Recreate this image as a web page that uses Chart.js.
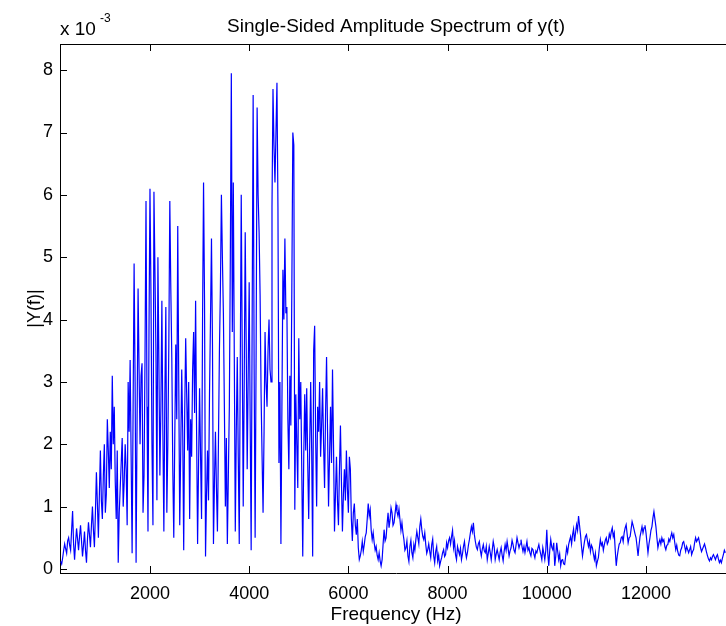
<!DOCTYPE html>
<html>
<head>
<meta charset="utf-8">
<script src="https://cdn.jsdelivr.net/npm/chart.js@4.4.1/dist/chart.umd.min.js"></script>
<style>
html, body { margin: 0; padding: 0; background: #fff; overflow: hidden; }
#wrap { width: 736px; height: 626px; }
</style>
</head>
<body>
<div id="wrap"><canvas id="spec" width="736" height="626"></canvas></div>
<script>
// |Y(f)|, in units of 1e-3 (see the "x 10^-3" label), one value every 20 Hz
var freqStep = 20;

// 200..980 Hz
var lowStart = 200;
var ampLow = [
  0.12, 0.08, 0.18, 0.30, 0.40, 0.32, 0.25, 0.45, 0.50, 0.38, 0.30, 0.62, 0.93, 0.40, 0.15, 0.42, 0.65, 0.48, 0.30, 0.52, // 200
  0.70, 0.45, 0.20, 0.38, 0.60, 0.30, 0.10, 0.48, 0.75, 0.55, 0.35, 0.70, 1.00, 0.62, 0.35, 0.90, 1.55, 1.05, 0.50, 1.20  // 600
];

// 1000..6180 Hz, the busy part
var midStart = 1000;
var ampMid = [
  1.90, 1.10, 0.80, 1.50, 2.00, 0.90, 1.20, 2.40, 1.90, 1.30, 2.20, 1.60, 3.10, 2.00, 2.60, 1.40, 0.80, 1.90, 0.10, 0.90, // 1000
  1.30, 1.70, 2.10, 1.00, 1.40, 2.00, 1.60, 0.70, 3.00, 2.20, 3.35, 1.80, 0.25, 2.60, 4.90, 3.00, 0.10, 2.40, 4.50, 3.20, // 1400
  2.00, 3.10, 3.30, 0.90, 1.50, 3.40, 5.90, 2.60, 0.60, 3.80, 6.10, 4.40, 2.00, 0.70, 6.05, 4.80, 3.50, 1.10, 5.00, 3.30, // 1800
  1.50, 2.60, 4.30, 2.20, 0.60, 2.80, 4.20, 0.90, 2.00, 3.60, 5.90, 4.50, 3.40, 1.60, 0.50, 2.10, 3.60, 2.40, 5.50, 3.00, // 2200
  0.70, 1.90, 3.20, 2.20, 0.30, 2.50, 3.70, 2.80, 1.90, 3.00, 0.80, 2.40, 1.80, 3.20, 3.80, 2.50, 4.30, 2.20, 0.40, 1.70, // 2600
  2.90, 1.80, 0.80, 4.00, 6.20, 4.30, 0.20, 1.20, 1.90, 1.10, 2.80, 4.00, 5.30, 3.60, 0.40, 1.40, 2.20, 1.30, 0.60, 2.00, // 3000
  3.50, 4.50, 6.00, 5.00, 4.10, 2.60, 1.00, 2.10, 0.40, 1.50, 2.60, 5.00, 7.95, 3.80, 6.20, 3.40, 0.60, 2.20, 3.40, 1.80, // 3400
  0.40, 3.20, 6.00, 3.50, 1.00, 3.00, 5.40, 3.60, 1.60, 3.10, 4.60, 2.40, 0.30, 4.00, 7.60, 3.20, 0.50, 3.50, 7.40, 6.00, // 3800
  5.40, 4.40, 2.80, 1.80, 0.90, 2.20, 3.80, 3.00, 2.60, 3.50, 4.00, 3.20, 3.00, 5.80, 7.70, 6.80, 6.20, 7.00, 7.80, 5.80, // 4200
  1.70, 3.00, 0.40, 2.60, 4.80, 4.00, 5.30, 4.10, 4.20, 2.40, 1.60, 3.10, 2.30, 4.50, 7.00, 6.80, 0.95, 2.80, 2.00, 1.30, // 4600
  3.70, 2.40, 3.00, 1.60, 0.20, 1.80, 2.80, 1.90, 2.90, 1.70, 0.80, 2.00, 3.00, 1.90, 0.20, 3.50, 3.90, 2.10, 1.00, 2.60, // 5000
  2.20, 3.00, 1.80, 2.30, 2.90, 2.00, 1.30, 2.50, 3.40, 2.20, 1.00, 1.80, 2.60, 1.70, 3.20, 2.00, 0.60, 1.20, 1.80, 1.10, // 5400
  0.70, 1.60, 2.30, 1.40, 0.60, 1.20, 1.60, 1.10, 1.90, 1.30, 0.90, 1.80, 1.60, 0.80, 0.45, 0.90, 1.05, 0.70, 0.55, 0.80  // 5800
];

// 6200..13600 Hz, the quiet part
var highStart = 6200;
var ampHigh = [
  0.34, 0.15, 0.21, 0.30, 0.44, 0.28, 0.39, 0.52, 0.58, 0.80, 1.05, 0.85, 0.95, 0.62, 0.47, 0.58, 0.42, 0.30, 0.36, 0.22, // 6200
  0.15, 0.26, 0.13, 0.05, 0.15, 0.40, 0.63, 0.45, 0.50, 0.72, 0.90, 0.66, 0.79, 0.98, 0.90, 0.70, 0.74, 0.88, 1.03, 0.92, // 6600
  0.85, 0.96, 0.79, 0.62, 0.74, 0.58, 0.47, 0.30, 0.34, 0.45, 0.21, 0.12, 0.36, 0.46, 0.26, 0.18, 0.39, 0.30, 0.47, 0.60, // 7000
  0.50, 0.40, 0.68, 0.80, 0.63, 0.52, 0.47, 0.58, 0.39, 0.25, 0.31, 0.40, 0.28, 0.18, 0.39, 0.48, 0.21, 0.10, 0.28, 0.36, // 7400
  0.13, 0.22, 0.05, 0.12, 0.18, 0.26, 0.31, 0.20, 0.23, 0.42, 0.34, 0.45, 0.50, 0.40, 0.52, 0.62, 0.34, 0.45, 0.23, 0.15, // 7800
  0.36, 0.29, 0.23, 0.33, 0.15, 0.24, 0.36, 0.44, 0.28, 0.18, 0.26, 0.38, 0.47, 0.58, 0.68, 0.60, 0.74, 0.55, 0.44, 0.35, // 8200
  0.31, 0.40, 0.44, 0.30, 0.21, 0.32, 0.39, 0.29, 0.26, 0.36, 0.15, 0.25, 0.36, 0.26, 0.15, 0.30, 0.44, 0.35, 0.15, 0.24, // 8600
  0.31, 0.23, 0.15, 0.27, 0.34, 0.22, 0.13, 0.28, 0.39, 0.30, 0.44, 0.33, 0.21, 0.29, 0.34, 0.46, 0.39, 0.30, 0.26, 0.38, // 9000
  0.50, 0.42, 0.34, 0.40, 0.47, 0.36, 0.28, 0.36, 0.26, 0.35, 0.44, 0.30, 0.34, 0.26, 0.21, 0.33, 0.31, 0.24, 0.18, 0.29, // 9400
  0.26, 0.33, 0.39, 0.30, 0.23, 0.15, 0.34, 0.25, 0.15, 0.30, 0.63, 0.25, 0.05, 0.30, 0.47, 0.35, 0.31, 0.42, 0.05, 0.20, // 9800
  0.42, 0.28, 0.15, 0.24, 0.05, 0.14, 0.15, 0.08, 0.07, 0.20, 0.34, 0.26, 0.39, 0.46, 0.52, 0.40, 0.55, 0.64, 0.44, 0.58, // 10200
  0.71, 0.62, 0.85, 0.70, 0.55, 0.36, 0.21, 0.33, 0.44, 0.52, 0.55, 0.45, 0.36, 0.44, 0.28, 0.38, 0.34, 0.24, 0.15, 0.25, // 10600
  0.05, 0.12, 0.18, 0.34, 0.47, 0.38, 0.42, 0.30, 0.39, 0.46, 0.50, 0.40, 0.44, 0.56, 0.50, 0.60, 0.66, 0.52, 0.58, 0.30, // 11000
  0.05, 0.20, 0.31, 0.40, 0.42, 0.50, 0.52, 0.44, 0.58, 0.66, 0.71, 0.56, 0.42, 0.50, 0.52, 0.64, 0.76, 0.70, 0.63, 0.56, // 11400
  0.50, 0.36, 0.21, 0.38, 0.52, 0.60, 0.68, 0.58, 0.66, 0.70, 0.58, 0.42, 0.26, 0.40, 0.50, 0.62, 0.68, 0.82, 0.92, 0.80, // 11800
  0.68, 0.50, 0.34, 0.42, 0.47, 0.40, 0.50, 0.44, 0.47, 0.36, 0.31, 0.38, 0.39, 0.48, 0.44, 0.52, 0.58, 0.50, 0.55, 0.42, // 12200
  0.31, 0.38, 0.28, 0.22, 0.21, 0.30, 0.34, 0.42, 0.44, 0.36, 0.28, 0.36, 0.31, 0.26, 0.31, 0.36, 0.23, 0.28, 0.31, 0.42, // 12600
  0.50, 0.44, 0.47, 0.50, 0.42, 0.34, 0.28, 0.32, 0.36, 0.40, 0.34, 0.27, 0.21, 0.16, 0.13, 0.18, 0.15, 0.20, 0.23, 0.19, // 13000
  0.15, 0.20, 0.23, 0.16, 0.10, 0.14, 0.10, 0.17, 0.23, 0.30, 0.26                                                        // 13400
];

var xTicks = [2000, 4000, 6000, 8000, 10000, 12000];
var yTicks = [0, 1, 2, 3, 4, 5, 6, 7, 8];

var titleText = 'Single-Sided Amplitude Spectrum of y(t)';
var xLabel = 'Frequency (Hz)';
var yLabel = '|Y(f)|';
var FONT = '"Liberation Sans", Arial, Helvetica, sans-serif';

function band(start, vals) {
  return vals.map(function (v, i) { return { x: start + i * freqStep, y: v }; });
}
var points = band(lowStart, ampLow)
  .concat(band(midStart, ampMid))
  .concat(band(highStart, ampHigh));

// matlab style frame: top edge, ticks pointing inwards, title and exponent
var matlabFrame = {
  id: 'matlabFrame',
  afterDraw: function (chart) {
    var ctx = chart.ctx;
    var a = chart.chartArea;
    var xs = chart.scales.x;
    var ys = chart.scales.y;
    ctx.save();
    ctx.strokeStyle = '#000';
    ctx.lineWidth = 1;
    ctx.beginPath();
    ctx.moveTo(a.left, a.top + 0.5);
    ctx.lineTo(a.right, a.top + 0.5);
    xTicks.forEach(function (v) {
      var px = Math.round(xs.getPixelForValue(v)) + 0.5;
      ctx.moveTo(px, a.bottom);
      ctx.lineTo(px, a.bottom - 7);
      ctx.moveTo(px, a.top);
      ctx.lineTo(px, a.top + 7);
    });
    yTicks.forEach(function (v) {
      var py = Math.round(ys.getPixelForValue(v)) + 0.5;
      ctx.moveTo(a.left, py);
      ctx.lineTo(a.left + 7, py);
    });
    ctx.stroke();

    ctx.fillStyle = '#000';
    ctx.textBaseline = 'alphabetic';
    ctx.textAlign = 'center';
    ctx.font = '19px ' + FONT;
    ctx.fillText(titleText, (a.left + a.right) / 2, 32);
    ctx.textAlign = 'left';
    ctx.font = '19px ' + FONT;
    ctx.fillText('x 10', 60, 35);
    ctx.font = '12px ' + FONT;
    ctx.fillText('-3', 100, 22);
    ctx.restore();
  }
};

new Chart(document.getElementById('spec'), {
  type: 'line',
  data: {
    datasets: [{
      data: points,
      borderColor: '#0000ff',
      borderWidth: 1.2,
      pointRadius: 0,
      fill: false,
      tension: 0
    }]
  },
  options: {
    responsive: false,
    animation: false,
    layout: { padding: { left: 0, right: 4, top: 44, bottom: 0 } },
    plugins: {
      legend: { display: false },
      tooltip: { enabled: false },
      title: { display: false }
    },
    scales: {
      x: {
        type: 'linear',
        min: 186,
        max: 13734,
        afterBuildTicks: function (s) { s.ticks = xTicks.map(function (v) { return { value: v }; }); },
        afterFit: function (s) { s.height = 53; },
        grid: { display: false, drawTicks: false },
        border: { display: true, color: '#000', width: 1 },
        ticks: {
          color: '#000',
          font: { family: FONT, size: 18 },
          padding: 10,
          maxRotation: 0,
          autoSkip: false,
          callback: function (v) { return String(v); }
        },
        title: {
          display: true,
          text: xLabel,
          color: '#000',
          font: { family: FONT, size: 19 },
          padding: { top: 0, bottom: 0 }
        }
      },
      y: {
        min: -0.065,
        max: 8.42,
        afterBuildTicks: function (s) { s.ticks = yTicks.map(function (v) { return { value: v }; }); },
        afterFit: function (s) { s.width = 60; },
        grid: { display: false, drawTicks: false },
        border: { display: true, color: '#000', width: 1 },
        ticks: {
          color: '#000',
          font: { family: FONT, size: 18 },
          padding: 7,
          callback: function (v) { return String(v); }
        },
        title: {
          display: true,
          text: yLabel,
          color: '#000',
          font: { family: FONT, size: 18 },
          padding: { top: 24, bottom: 0 }
        }
      }
    }
  },
  plugins: [matlabFrame]
});
</script>
</body>
</html>
